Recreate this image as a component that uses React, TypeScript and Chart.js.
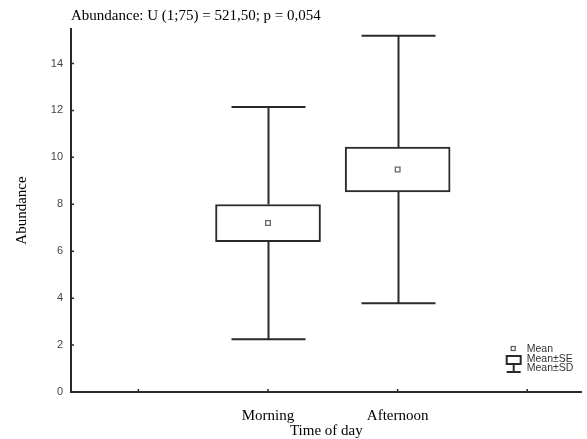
import React, { useEffect, useRef } from "react";
import { Chart, registerables } from "chart.js";

Chart.register(...registerables);

const categories = ["Morning", "Afternoon"];
const categoryPositions = [1, 2];
const xTickValues = [0, 1, 2, 3];
const yTickValues = [0, 2, 4, 6, 8, 10, 12, 14];
const means = [7.2, 9.48];
const standardErrors = [0.79, 0.955];
const standardDeviations = [4.95, 5.7];
const titleText = "Abundance: U (1;75) = 521,50; p = 0,054";
const legendLabels = ["Mean", "Mean±SE", "Mean±SD"];

const INK = "#2a2a2a";

const whiskerPlugin = {
  id: "whiskers",
  afterDatasetsDraw(chart: any) {
    const { ctx, scales } = chart;
    const xs = scales.x;
    const ys = scales.y;
    ctx.save();
    ctx.strokeStyle = INK;
    ctx.lineWidth = 2;
    const capHalf = 37;
    categoryPositions.forEach((pos, i) => {
      const x = Math.round(xs.getPixelForValue(pos)) + 0.5;
      const m = means[i];
      const se = standardErrors[i];
      const sd = standardDeviations[i];
      const yTopBox = ys.getPixelForValue(m + se);
      const yBotBox = ys.getPixelForValue(m - se);
      const yTop = ys.getPixelForValue(m + sd);
      const yBot = ys.getPixelForValue(m - sd);
      ctx.beginPath();
      ctx.moveTo(x, yTopBox);
      ctx.lineTo(x, yTop);
      ctx.moveTo(x - capHalf, yTop);
      ctx.lineTo(x + capHalf, yTop);
      ctx.moveTo(x, yBotBox);
      ctx.lineTo(x, yBot);
      ctx.moveTo(x - capHalf, yBot);
      ctx.lineTo(x + capHalf, yBot);
      ctx.stroke();
    });
    // inner tick marks
    ctx.lineWidth = 1.5;
    ctx.beginPath();
    yTickValues.forEach((v) => {
      const y = ys.getPixelForValue(v);
      if (v === 0) return;
      ctx.moveTo(xs.left, y);
      ctx.lineTo(xs.left + 3, y);
    });
    xTickValues.forEach((v) => {
      const x = xs.getPixelForValue(v);
      ctx.moveTo(x, ys.bottom);
      ctx.lineTo(x, ys.bottom - 3);
    });
    ctx.stroke();

    // legend
    const lx = chart.chartArea.right - 76;
    const ly = chart.chartArea.bottom - 46;
    ctx.strokeStyle = "#555";
    ctx.lineWidth = 1.2;
    ctx.strokeRect(lx + 5.5, ly + 0.5, 4, 4);
    ctx.strokeStyle = INK;
    ctx.lineWidth = 2;
    ctx.strokeRect(lx + 1, ly + 10, 14, 8);
    ctx.beginPath();
    ctx.moveTo(lx + 8, ly + 18);
    ctx.lineTo(lx + 8, ly + 26);
    ctx.moveTo(lx + 1, ly + 26);
    ctx.lineTo(lx + 15, ly + 26);
    ctx.stroke();
    ctx.fillStyle = "#333";
    ctx.font = "10.5px 'Liberation Sans', Arial, sans-serif";
    ctx.textBaseline = "middle";
    ctx.textAlign = "left";
    legendLabels.forEach((t, i) => {
      ctx.fillText(t, lx + 21, ly + 3 + i * 9.8);
    });
    ctx.restore();
  },
};

export default function App() {
  const ref = useRef<HTMLCanvasElement | null>(null);
  useEffect(() => {
    document.body.style.margin = "0";
    const canvas = ref.current;
    if (!canvas) return;
    const chart = new Chart(canvas, {
      type: "bar",
      data: {
        datasets: [
          {
            type: "bar",
            order: 2,
            data: categoryPositions.map((p, i) => ({
              x: p,
              y: [means[i] - standardErrors[i], means[i] + standardErrors[i]],
            })) as any,
            backgroundColor: "#ffffff",
            borderColor: INK,
            borderWidth: 2,
            borderSkipped: false,
            barThickness: 105,
            grouped: false,
          } as any,
          {
            type: "scatter",
            order: 1,
            data: categoryPositions.map((p, i) => ({ x: p, y: means[i] })),
            pointStyle: "rect",
            pointRadius: 3.3,
            borderColor: "#666",
            borderWidth: 1.3,
            backgroundColor: "#fff",
          } as any,
        ],
      },
      options: {
        animation: false,
        responsive: false,
        events: [],
        layout: { padding: { top: 0, right: 2, bottom: 0, left: 0 } },
        plugins: {
          legend: { display: false },
          tooltip: { enabled: false },
          title: {
            display: true,
            text: titleText,
            align: "start",
            fullSize: false,
            color: "#000",
            font: { family: "'Liberation Serif', 'Times New Roman', serif", size: 15, weight: "normal", lineHeight: 1.2 },
            padding: { top: 7, bottom: 4 },
          },
        },
        scales: {
          x: {
            type: "linear",
            offset: false,
            min: -0.52,
            max: 3.42,
            grid: { display: false, drawTicks: false, offset: false },
            border: { display: true, color: INK, width: 2 },
            afterBuildTicks: (scale: any) => {
              scale.ticks = xTickValues.map((v) => ({ value: v }));
            },
            afterFit: (scale: any) => {
              scale.height = 47;
            },
            ticks: {
              padding: 15,
              maxRotation: 0,
              autoSkip: false,
              color: "#000",
              font: { family: "'Liberation Serif', 'Times New Roman', serif", size: 15 },
              callback: (v: any) => {
                const idx = categoryPositions.indexOf(Number(v));
                return idx >= 0 ? categories[idx] : "";
              },
            },
            title: {
              display: true,
              text: "Time of day",
              color: "#000",
              font: { family: "'Liberation Serif', 'Times New Roman', serif", size: 15, lineHeight: 1 },
              padding: { top: 0, bottom: 0 },
            },
          },
          y: {
            type: "linear",
            min: 0,
            max: 15.47,
            grid: { display: false, drawTicks: false },
            border: { display: true, color: INK, width: 2 },
            afterBuildTicks: (scale: any) => {
              scale.ticks = yTickValues.map((v) => ({ value: v }));
            },
            afterFit: (scale: any) => {
              scale.width = 71;
            },
            ticks: {
              padding: 8,
              color: "#444",
              font: { family: "'Liberation Sans', Arial, sans-serif", size: 11 },
            },
            title: {
              display: true,
              text: "Abundance",
              color: "#000",
              font: { family: "'Liberation Serif', 'Times New Roman', serif", size: 15, lineHeight: 1.2 },
              padding: { top: 13, bottom: 0 },
            },
          },
        },
      },
      plugins: [whiskerPlugin],
    });
    return () => chart.destroy();
  }, []);
  return <canvas ref={ref} width={587} height={439} style={{ display: "block" }} />;
}
